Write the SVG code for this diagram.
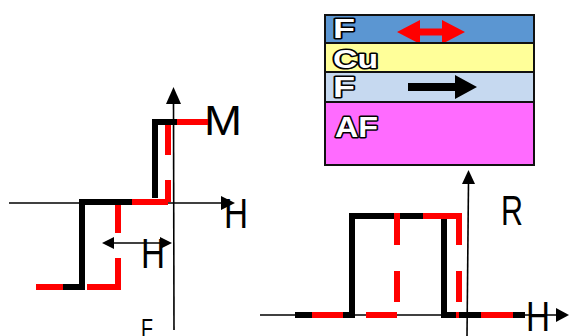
<svg xmlns="http://www.w3.org/2000/svg" width="570" height="336" viewBox="0 0 570 336">
<style>
.ax{stroke:#000;stroke-width:1.6;fill:none}
.k{stroke:#000;stroke-width:6;fill:none;stroke-linecap:butt}
.r{stroke:#f00;stroke-width:6;fill:none;stroke-linecap:butt}
.lbl{font-family:"Liberation Sans",Arial,sans-serif;font-size:42px;fill:#000}
.lay{font-family:"Liberation Sans",Arial,sans-serif;font-weight:bold;fill:#fff;stroke:#000;stroke-width:3;paint-order:stroke;stroke-linejoin:round}
.ah{fill:#000}
</style>
<rect width="570" height="336" fill="#fff"/>

<g id="left-plot">
  <g id="left-axes">
    <line class="ax" x1="9" y1="203" x2="224" y2="203"/>
    <polygon class="ah" points="235,203 221,196 221,210"/>
    <line class="ax" x1="173.5" y1="100" x2="174" y2="330"/>
    <polygon class="ah" points="173.5,87 166,104 181,104"/>
  </g>
  <g id="left-black-loop">
    <polyline class="k" points="155,198 155,122 177,122"/>
    <polyline class="k" points="132,202 82,202 82,287 63,287"/>
  </g>
  <g id="left-red-loop">
    <line class="r" x1="177" y1="122" x2="210" y2="122"/>
    <line class="r" x1="168" y1="125" x2="168" y2="155"/>
    <line class="r" x1="168" y1="180" x2="168" y2="202"/>
    <line class="r" x1="132" y1="202" x2="168" y2="202"/>
    <line class="r" x1="118" y1="205" x2="118" y2="233"/>
    <line class="r" x1="118" y1="258" x2="118" y2="290"/>
    <line class="r" x1="87" y1="287" x2="121" y2="287"/>
    <line class="r" x1="36" y1="287" x2="63" y2="287"/>
  </g>
  <g id="left-hc-arrow">
    <line class="ax" x1="110" y1="243" x2="165" y2="243"/>
    <polygon class="ah" points="102,243 114,237 114,249"/>
    <polygon class="ah" points="172,243 160,237 160,249"/>
  </g>
  <text class="lbl" x="204" y="135" textLength="38" lengthAdjust="spacingAndGlyphs">M</text>
  <text class="lbl" x="224" y="228" textLength="24" lengthAdjust="spacingAndGlyphs">H</text>
  <text class="lbl" x="141" y="268" textLength="24" lengthAdjust="spacingAndGlyphs">H</text>
  <text class="lbl" x="141" y="337" style="font-size:26px" textLength="12" lengthAdjust="spacingAndGlyphs">F</text>
</g>

<g id="right-plot">
  <g id="right-axes">
    <line class="ax" x1="260" y1="315" x2="558" y2="315"/>
    <polygon class="ah" points="569,315 556,308 556,322"/>
    <line class="ax" x1="468.5" y1="182" x2="467" y2="336"/>
    <polygon class="ah" points="468.5,170 462,184 475,184"/>
  </g>
  <g id="right-black-loop">
    <polyline class="k" points="352,318 352,216 423,216"/>
    <line class="k" x1="444" y1="219" x2="444" y2="318"/>
    <line class="k" x1="295" y1="315" x2="312" y2="315"/>
    <line class="k" x1="343" y1="315" x2="355" y2="315"/>
    <line class="k" x1="441" y1="315" x2="456" y2="315"/>
    <line class="k" x1="459" y1="315" x2="481" y2="315"/>
    <line class="k" x1="513" y1="315" x2="525" y2="315"/>
  </g>
  <g id="right-red-loop">
    <line class="r" x1="423" y1="216" x2="462" y2="216"/>
    <line class="r" x1="459" y1="216" x2="459" y2="245"/>
    <line class="r" x1="459" y1="271" x2="459" y2="302"/>
    <line class="r" x1="397" y1="213" x2="397" y2="245"/>
    <line class="r" x1="397" y1="271" x2="397" y2="302"/>
    <line class="r" x1="312" y1="315" x2="343" y2="315"/>
    <line class="r" x1="366" y1="315" x2="397" y2="315"/>
    <line class="r" x1="456" y1="315" x2="459" y2="315"/>
    <line class="r" x1="481" y1="315" x2="513" y2="315"/>
  </g>
  <text class="lbl" x="501" y="225" textLength="22" lengthAdjust="spacingAndGlyphs">R</text>
  <text class="lbl" x="526" y="331" textLength="24" lengthAdjust="spacingAndGlyphs">H</text>
</g>

<g id="stack">
  <g id="layer-F-top">
    <rect x="325" y="15" width="209" height="28" fill="#5b96d2" stroke="#111" stroke-width="2"/>
    <text class="lay" x="333" y="38" style="font-size:28px" textLength="22" lengthAdjust="spacingAndGlyphs">F</text>
    <polygon fill="#f00" points="397,32 420,20 420,28.5 442,28.5 442,20 465,32 442,44 442,35.5 420,35.5 420,44"/>
  </g>
  <g id="layer-Cu">
    <rect x="325" y="43" width="209" height="29" fill="#ffff99" stroke="#111" stroke-width="2"/>
    <text class="lay" x="333" y="68" style="font-size:25px" textLength="45" lengthAdjust="spacingAndGlyphs">Cu</text>
  </g>
  <g id="layer-F-bottom">
    <rect x="325" y="72" width="209" height="30" fill="#c6d9f0" stroke="#111" stroke-width="2"/>
    <text class="lay" x="333" y="97" style="font-size:29px" textLength="22" lengthAdjust="spacingAndGlyphs">F</text>
    <polygon fill="#000" points="408,83 455,83 455,75 477,87 455,99 455,91 408,91"/>
  </g>
  <g id="layer-AF">
    <rect x="325" y="102" width="209" height="63" fill="#ff6bff" stroke="#111" stroke-width="2"/>
    <text class="lay" x="335" y="137" style="font-size:30px" textLength="43" lengthAdjust="spacingAndGlyphs">AF</text>
  </g>
</g>
</svg>
